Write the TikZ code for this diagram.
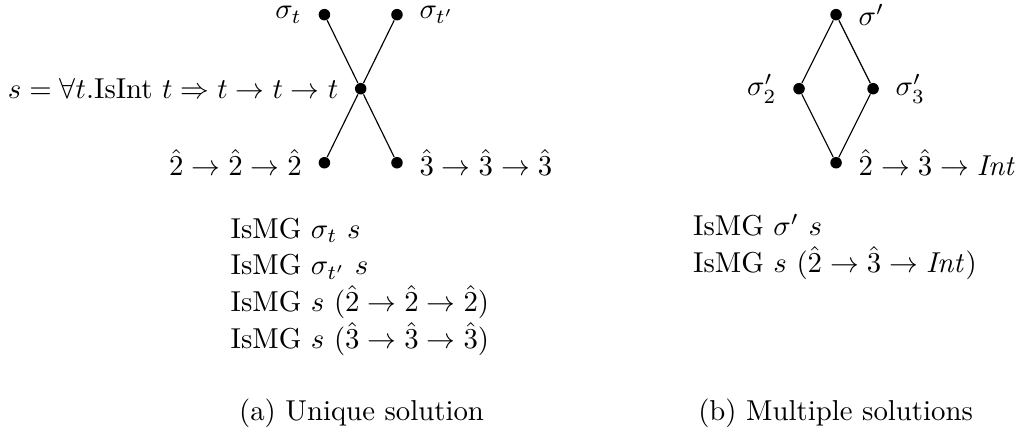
\documentclass[tikz,border=0pt]{standalone}
\usepackage{amsmath}
\usetikzlibrary{positioning}
\tikzset{dot/.style={circle, fill, inner sep=0pt, minimum size=4pt}}

\begin{document}
\begin{tikzpicture}[on grid, label distance=2.1pt]
    \useasboundingbox (0,0) rectangle (12.405,-5.299);
    % (a) unique solution
    \node[dot, label={left:$s = \forall t.\mathrm{IsInt}\ t \Rightarrow t \to t \to t$}] (s) at (4.404,-1.083) {};
    \node[dot, above left=0.904cm and 0.443cm of s, label={left:$\sigma_t$}] (sigt) {};
    \node[dot, above right=0.904cm and 0.443cm of s, label={right:$\sigma_{t'}$}] (sigtp) {};
    \node[dot, below left=0.904cm and 0.443cm of s, label={left:$\hat{2} \to \hat{2} \to \hat{2}$}] (two) {};
    \node[dot, below right=0.904cm and 0.443cm of s, label={right:$\hat{3} \to \hat{3} \to \hat{3}$}] (three) {};
    \draw (sigt) -- (s) -- (three);
    \draw (sigtp) -- (s) -- (two);
    \node[align=left, anchor=north, inner sep=0pt] (factsa) at (4.394,-2.653)
        {IsMG $\sigma_t$ $s$\\[0.75pt]
         IsMG $\sigma_{t'}$ $s$\\[0.75pt]
         IsMG $s$ $(\hat{2} \to \hat{2} \to \hat{2})$\\[0.75pt]
         IsMG $s$ $(\hat{3} \to \hat{3} \to \hat{3})$};
    \node[anchor=base] (capa) at (4.414,-5.128) {(a) Unique solution};
    % (b) multiple solutions
    \node[dot, label={left:$\sigma'_2$}] (sig2) at (9.756,-1.083) {};
    \node[dot, right=0.904cm of sig2, label={right:$\sigma'_3$}] (sig3) {};
    \node[dot, above right=0.904cm and 0.452cm of sig2, label={right:$\sigma'$}] (sigp) {};
    \node[dot, below right=0.904cm and 0.452cm of sig2, label={right:$\hat{2} \to \hat{3} \to \mathit{Int}$}] (bot) {};
    \draw (sigp) -- (sig2) -- (bot) -- (sig3) -- (sigp);
    \node[align=left, anchor=north, inner sep=0pt] (factsb) at (10.195,-2.610)
        {IsMG $\sigma'$ $s$\\[0.75pt]
         IsMG $s$ $(\hat{2} \to \hat{3} \to \mathit{Int})$};
    \node[anchor=base] (capb) at (10.202,-5.128) {(b) Multiple solutions};
\end{tikzpicture}
\end{document}
